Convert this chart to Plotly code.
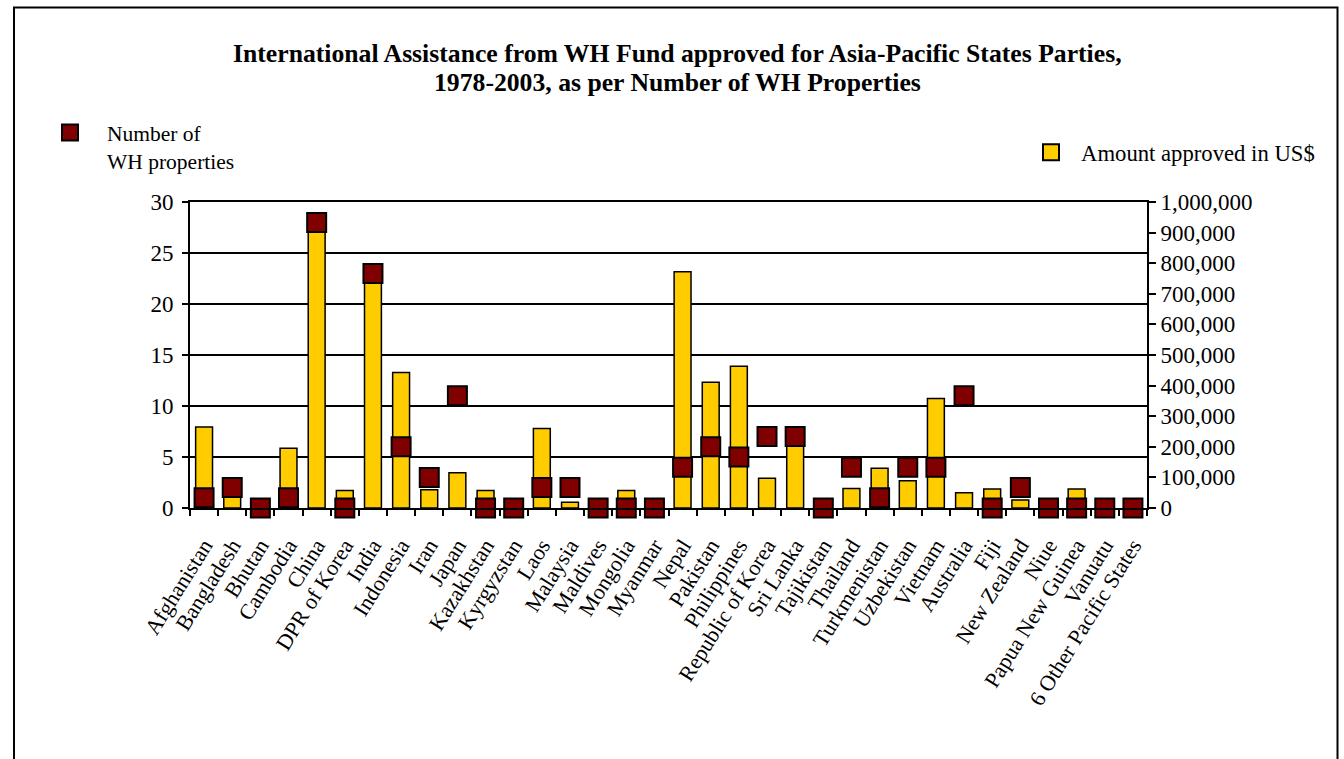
import plotly.graph_objects as go

countries = ["Afghanistan", "Bangladesh", "Bhutan", "Cambodia", "China", "DPR of Korea", "India",
             "Indonesia", "Iran", "Japan", "Kazakhstan", "Kyrgyzstan", "Laos", "Malaysia", "Maldives",
             "Mongolia", "Myanmar", "Nepal", "Pakistan", "Philippines", "Republic of Korea", "Sri Lanka",
             "Tajikistan", "Thailand", "Turkmenistan", "Uzbekistan", "Vietnam", "Australia", "Fiji",
             "New Zealand", "Niue", "Papua New Guinea", "Vanuatu", "6 Other Pacific States"]

amount_usd = [265000, 50000, 25000, 195000, 920000, 57000, 760000, 443000, 60000, 115000,
              57000, 20000, 260000, 19000, 15000, 57000, 20000, 772000, 411000, 463000,
              97000, 230000, 10000, 64000, 130000, 89000, 358000, 50000, 62000, 26000,
              10000, 62000, 10000, 10000]

wh_properties = [1, 2, 0, 1, 28, 0, 23, 6, 3, 11, 0, 0, 2, 2, 0, 0, 0, 4, 6, 5, 7, 7, 0, 4, 1, 4, 4,
                 11, 0, 2, 0, 0, 0, 0]

left_ticks = [0, 5, 10, 15, 20, 25, 30]
right_ticks = list(range(0, 1000001, 100000))

title_lines = ["International Assistance from WH Fund approved for Asia-Pacific States Parties,",
               "1978-2003, as per Number of WH Properties"]

FONT = "Times New Roman, Liberation Serif, serif"
YELLOW = "#FFCC00"
MAROON = "#800000"

# plot area geometry (pixels)
PL, PR, PT, PB = 190, 1147, 202, 508
PW, PH = PR - PL, PB - PT


def px(xp):
    return (xp - PL) / PW


def py(yp):
    return (PB - yp) / PH


fig = go.Figure()

fig.add_trace(go.Bar(
    x=countries, y=amount_usd, name="Amount approved in US$", yaxis="y",
    marker=dict(color=YELLOW, line=dict(color="black", width=1.5)), width=0.6,
    showlegend=False,
))
fig.add_trace(go.Scatter(
    x=countries, y=wh_properties, name="Number of<br>WH properties", yaxis="y2", mode="markers",
    marker=dict(symbol="square", size=19, color=MAROON, line=dict(color="black", width=2)),
    cliponaxis=False, legend="legend",
))
# legend entry for the bars (square symbol like the reference)
fig.add_trace(go.Scatter(
    x=[None], y=[None], name="Amount approved in US$", yaxis="y", mode="markers",
    marker=dict(symbol="square", size=19, color=YELLOW, line=dict(color="black", width=2)),
    legend="legend2",
))

fig.update_layout(
    width=1344, height=759,
    margin=dict(l=PL, r=1344 - PR, t=PT, b=759 - PB),
    paper_bgcolor="white", plot_bgcolor="white",
    font=dict(family=FONT, size=22, color="black"),
    xaxis=dict(
        type="category", range=[-0.5, len(countries) - 0.5],
        tickmode="array", tickvals=countries, ticktext=countries,
        tickangle=-58, tickson="boundaries", ticks="outside", ticklen=6,
        tickcolor="black", tickwidth=1.5, showline=True, linecolor="black", linewidth=2,
        mirror=True, showgrid=False, tickfont=dict(family=FONT, size=22),
        ticklabelstandoff=14,
    ),
    yaxis=dict(
        side="right", range=[0, 1000000], tickvals=right_ticks, tickformat=",",
        showgrid=False, zeroline=False, showline=True, linecolor="black", linewidth=2,
        ticks="outside", ticklen=7, tickcolor="black", tickwidth=1.5,
        tickfont=dict(family=FONT, size=23),
    ),
    yaxis2=dict(
        overlaying="y", side="left", range=[0, 30], tickvals=left_ticks,
        showgrid=True, gridcolor="black", gridwidth=1.5, zeroline=False,
        showline=True, linecolor="black", linewidth=2,
        ticks="outside", ticklen=6, tickcolor="black", tickwidth=1.5,
        tickfont=dict(family=FONT, size=23), ticklabelstandoff=4,
    ),
    yaxis3=dict(
        overlaying="y", side="right", anchor="x", range=[0, 1000000], tickvals=right_ticks,
        showgrid=False, zeroline=False, showline=False, showticklabels=False,
        ticks="inside", ticklen=7, tickcolor="black", tickwidth=1.5,
    ),
    legend=dict(
        x=px(33), xanchor="left", y=py(112), yanchor="top",
        bgcolor="rgba(0,0,0,0)", font=dict(family=FONT, size=21.5), valign="top",
        itemwidth=64,
    ),
    legend2=dict(
        x=px(1021), xanchor="left", y=py(131), yanchor="top",
        bgcolor="rgba(0,0,0,0)", font=dict(family=FONT, size=22.7), itemwidth=50,
    ),
    annotations=[
        dict(text="<b>%s</b>" % title_lines[0], xref="paper", yref="paper", x=px(677), y=py(54),
             xanchor="center", yanchor="middle", showarrow=False,
             font=dict(family=FONT, size=25.7, color="black")),
        dict(text="<b>%s</b>" % title_lines[1], xref="paper", yref="paper", x=px(677), y=py(82),
             xanchor="center", yanchor="middle", showarrow=False,
             font=dict(family=FONT, size=25.7, color="black")),
    ],
    shapes=[dict(
        type="rect", xref="paper", yref="paper",
        x0=px(14), x1=px(1337.5), y0=py(790), y1=py(7.5),
        line=dict(color="black", width=2), fillcolor="rgba(0,0,0,0)", layer="below",
    )],
)

fig.write_html("out.html")
